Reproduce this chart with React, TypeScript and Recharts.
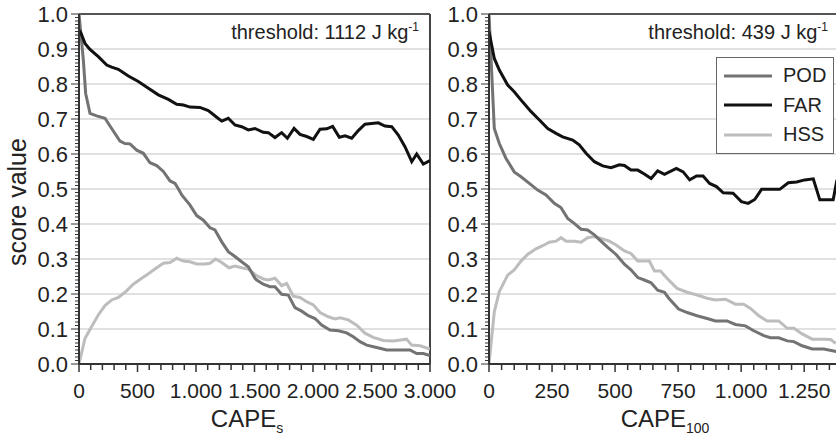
import React from 'react';
import { LineChart, Line, XAxis, YAxis, ReferenceLine, Legend } from 'recharts';

type Pt = [number, number];

// left panel: CAPE_s (J/kg) -> score
const capeSPod: Pt[] = [
  [0, 1.0], [37, 0.869], [57, 0.773], [94, 0.716], [151, 0.709], [222, 0.702], [279, 0.673],
  [350, 0.637], [393, 0.63], [436, 0.629], [493, 0.611], [550, 0.602], [607, 0.575], [664, 0.567],
  [721, 0.55], [778, 0.523], [821, 0.516], [855, 0.497], [878, 0.483], [949, 0.454], [1006, 0.424],
  [1063, 0.411], [1120, 0.389], [1162, 0.383], [1220, 0.349], [1276, 0.321], [1333, 0.307],
  [1390, 0.292], [1447, 0.278], [1504, 0.245], [1519, 0.24], [1575, 0.228], [1632, 0.221],
  [1675, 0.221], [1732, 0.199], [1789, 0.197], [1846, 0.161], [1903, 0.151], [1960, 0.138],
  [2017, 0.13], [2074, 0.111], [2145, 0.097], [2217, 0.095], [2288, 0.089], [2344, 0.078],
  [2402, 0.064], [2459, 0.054], [2544, 0.047], [2630, 0.04], [2715, 0.04], [2829, 0.04],
  [2886, 0.03], [2943, 0.03], [3000, 0.024],
];
const capeSFar: Pt[] = [
  [0, 0.954], [17, 0.945], [51, 0.916], [94, 0.899], [165, 0.878], [237, 0.854], [279, 0.848],
  [336, 0.842], [422, 0.823], [507, 0.807], [593, 0.788], [678, 0.769], [764, 0.756], [835, 0.742],
  [892, 0.74], [949, 0.734], [1034, 0.733], [1105, 0.724], [1177, 0.705], [1220, 0.694],
  [1276, 0.702], [1333, 0.683], [1390, 0.678], [1447, 0.669], [1504, 0.673], [1575, 0.662],
  [1618, 0.661], [1675, 0.647], [1732, 0.661], [1781, 0.645], [1838, 0.673], [1889, 0.656],
  [1946, 0.65], [2003, 0.642], [2060, 0.671], [2117, 0.672], [2168, 0.679], [2225, 0.648],
  [2274, 0.652], [2331, 0.645], [2387, 0.667], [2444, 0.685], [2501, 0.687], [2558, 0.689],
  [2615, 0.68], [2673, 0.678], [2729, 0.654], [2786, 0.621], [2844, 0.578], [2886, 0.6],
  [2943, 0.571], [3000, 0.581],
];
const capeSHss: Pt[] = [
  [0, 0], [51, 0.073], [108, 0.107], [165, 0.14], [222, 0.167], [279, 0.183], [336, 0.19],
  [393, 0.205], [464, 0.228], [536, 0.245], [593, 0.258], [664, 0.275], [721, 0.288], [778, 0.29],
  [835, 0.302], [892, 0.294], [949, 0.292], [1006, 0.286], [1077, 0.286], [1120, 0.288],
  [1168, 0.3], [1220, 0.29], [1282, 0.275], [1333, 0.28], [1390, 0.275], [1447, 0.271],
  [1519, 0.252], [1575, 0.243], [1618, 0.24], [1675, 0.245], [1732, 0.224], [1775, 0.23],
  [1832, 0.194], [1889, 0.19], [1946, 0.178], [2003, 0.169], [2060, 0.147], [2131, 0.135],
  [2188, 0.129], [2231, 0.132], [2302, 0.126], [2373, 0.111], [2444, 0.088], [2515, 0.076],
  [2601, 0.067], [2686, 0.066], [2800, 0.071], [2843, 0.054], [2915, 0.052], [3000, 0.043],
];

// right panel: CAPE_100 (J/kg) -> score
const cape100Pod: Pt[] = [
  [0, 1.0], [21, 0.673], [41, 0.63], [67, 0.588], [100, 0.549], [127, 0.535], [160, 0.516],
  [193, 0.497], [226, 0.483], [259, 0.459], [285, 0.447], [312, 0.416], [338, 0.402], [365, 0.385],
  [391, 0.383], [418, 0.369], [444, 0.351], [471, 0.333], [504, 0.313], [537, 0.285], [563, 0.269],
  [590, 0.247], [616, 0.24], [643, 0.232], [669, 0.211], [696, 0.205], [713, 0.188], [752, 0.157],
  [786, 0.147], [825, 0.138], [865, 0.13], [898, 0.123], [944, 0.123], [977, 0.113], [1017, 0.109],
  [1050, 0.095], [1090, 0.081], [1116, 0.075], [1149, 0.075], [1183, 0.066], [1209, 0.064],
  [1242, 0.052], [1282, 0.043], [1328, 0.043], [1367, 0.037], [1380, 0.035],
];
const cape100Far: Pt[] = [
  [0, 0.95], [21, 0.873], [41, 0.84], [74, 0.797], [100, 0.778], [133, 0.749], [167, 0.721],
  [200, 0.697], [233, 0.673], [266, 0.659], [292, 0.649], [332, 0.64], [358, 0.626], [385, 0.602],
  [418, 0.578], [451, 0.566], [484, 0.561], [517, 0.569], [537, 0.567], [563, 0.554], [590, 0.554],
  [616, 0.543], [643, 0.53], [669, 0.552], [696, 0.542], [743, 0.559], [770, 0.549], [796, 0.526],
  [823, 0.537], [849, 0.537], [875, 0.516], [902, 0.507], [929, 0.489], [968, 0.488], [1001, 0.464],
  [1028, 0.459], [1054, 0.47], [1081, 0.499], [1113, 0.499], [1153, 0.499], [1187, 0.518],
  [1220, 0.52], [1252, 0.526], [1286, 0.529], [1312, 0.469], [1339, 0.469], [1365, 0.469],
  [1380, 0.526],
];
const cape100Hss: Pt[] = [
  [0, 0], [21, 0.149], [41, 0.207], [74, 0.254], [100, 0.269], [127, 0.294], [153, 0.313],
  [186, 0.329], [213, 0.338], [239, 0.348], [266, 0.351], [286, 0.361], [306, 0.351], [338, 0.351],
  [365, 0.348], [391, 0.361], [418, 0.364], [451, 0.357], [477, 0.351], [504, 0.34], [537, 0.323],
  [563, 0.316], [590, 0.294], [616, 0.294], [636, 0.294], [656, 0.266], [680, 0.266], [706, 0.245],
  [746, 0.216], [786, 0.205], [825, 0.197], [865, 0.188], [898, 0.183], [938, 0.185], [977, 0.171],
  [1010, 0.171], [1037, 0.159], [1070, 0.138], [1103, 0.123], [1149, 0.123], [1183, 0.102],
  [1209, 0.102], [1242, 0.086], [1282, 0.071], [1328, 0.071], [1355, 0.07], [1375, 0.059],
];

const capeSTicks = [0, 500, 1000, 1500, 2000, 2500, 3000];
const cape100Ticks = [0, 250, 500, 750, 1000, 1250];
const gridLines = [0.1, 0.2, 0.3, 0.4, 0.5, 0.6, 0.7, 0.8, 0.9];

const capeSMinor = Array.from({ length: 31 }, (_, i) => i * 100);
const cape100Minor = Array.from({ length: 29 }, (_, i) => i * 50);
const scoreMinor = Array.from({ length: 101 }, (_, i) => i / 100);

const COLORS: Record<string, string> = { POD: '#737373', FAR: '#111111', HSS: '#bdbdbd' };
const FONT = '"Liberation Sans", Arial, sans-serif';
const INK = '#222';

const rows = (pts: Pt[]) => pts.map(([x, y]) => ({ x, y }));

const fmtThousands = (v: number) =>
  v >= 1000 ? `${Math.floor(v / 1000)}.${String(v % 1000).padStart(3, '0')}` : String(v);

const XTick = (props: any) => {
  const { x, y, payload, majors } = props;
  const v = payload.value;
  const major = majors.includes(v);
  return (
    <g>
      <line x1={x} x2={x} y1={y - 8} y2={major ? y : y - 2} stroke="#333" strokeWidth={1.5} />
      {major && (
        <text x={x} y={y + 26} textAnchor="middle" fontSize={21} fontFamily={FONT} fill={INK}>
          {fmtThousands(v)}
        </text>
      )}
    </g>
  );
};

const YTick = (props: any) => {
  const { x, y, payload } = props;
  const v = payload.value;
  const major = Math.abs(v * 10 - Math.round(v * 10)) < 1e-6;
  return (
    <g>
      <line x1={major ? x : x + 4} x2={x + 8} y1={y} y2={y} stroke="#333" strokeWidth={1} />
      {major && (
        <text x={x - 3} y={y + 8} textAnchor="end" fontSize={22} fontFamily={FONT} fill={INK}>
          {v.toFixed(1)}
        </text>
      )}
    </g>
  );
};

const LegendBox = () => (
  <div
    style={{
      width: 118,
      height: 97,
      boxSizing: 'border-box',
      border: '1px solid #666',
      background: '#fff',
      paddingTop: 3,
      fontFamily: FONT,
      fontSize: 20,
      color: INK,
    }}
  >
    {['POD', 'FAR', 'HSS'].map((name) => (
      <div key={name} style={{ height: 29.5, display: 'flex', alignItems: 'center' }}>
        <svg width={62} height={10} style={{ display: 'block' }}>
          <line x1={7} x2={55} y1={5} y2={5} stroke={COLORS[name]} strokeWidth={3} />
        </svg>
        <span style={{ marginLeft: 4 }}>{name}</span>
      </div>
    ))}
  </div>
);

type PanelProps = {
  width: number;
  marginLeft: number;
  marginRight: number;
  xMax: number;
  xTicks: number[];
  xMinor: number[];
  pod: Pt[];
  far: Pt[];
  hss: Pt[];
  rightBorder?: boolean;
  legend?: boolean;
};

const Panel = (p: PanelProps) => (
  <LineChart
    width={p.width}
    height={440}
    margin={{ top: 14, right: p.marginRight, bottom: 36, left: p.marginLeft }}
  >
    <XAxis
      type="number"
      dataKey="x"
      domain={[0, p.xMax]}
      ticks={p.xMinor}
      interval={0}
      height={40}
      tickSize={8}
      tickMargin={0}
      tickLine={false}
      axisLine={{ stroke: '#333', strokeWidth: 2 }}
      tick={<XTick majors={p.xTicks} />}
      allowDataOverflow
    />
    <YAxis
      type="number"
      domain={[0, 1]}
      ticks={scoreMinor}
      interval={0}
      width={50}
      tickSize={8}
      tickMargin={0}
      tickLine={false}
      axisLine={{ stroke: '#333', strokeWidth: 2 }}
      tick={<YTick />}
    />
    {gridLines.map((g) => (
      <ReferenceLine key={g} y={g} stroke="#c4c4c4" strokeWidth={1.2} />
    ))}
    <ReferenceLine y={1} stroke="#555" strokeWidth={2} />
    {p.rightBorder && <ReferenceLine x={p.xMax} stroke="#444" strokeWidth={2} />}
    <Line data={rows(p.hss)} dataKey="y" name="HSS" type="linear" stroke={COLORS.HSS} strokeWidth={3} dot={false} isAnimationActive={false} />
    <Line data={rows(p.pod)} dataKey="y" name="POD" type="linear" stroke={COLORS.POD} strokeWidth={3} dot={false} isAnimationActive={false} />
    <Line data={rows(p.far)} dataKey="y" name="FAR" type="linear" stroke={COLORS.FAR} strokeWidth={3} dot={false} isAnimationActive={false} />
    {p.legend && (
      <Legend
        layout="horizontal"
        align="center"
        verticalAlign="middle"
        content={() => <LegendBox />}
        wrapperStyle={{ position: 'absolute', left: 280, top: 57, width: 118, height: 97 }}
      />
    )}
  </LineChart>
);

export default function App() {
  return (
    <div
      style={{
        position: 'absolute',
        left: 0,
        top: 0,
        width: 836,
        height: 440,
        overflow: 'hidden',
        background: '#fff',
      }}
    >
      <div style={{ position: 'absolute', left: 0, top: 0 }}>
        <Panel
          width={460}
          marginLeft={29}
          marginRight={30}
          xMax={3000}
          xTicks={capeSTicks}
          xMinor={capeSMinor}
          pod={capeSPod}
          far={capeSFar}
          hss={capeSHss}
          rightBorder
        />
      </div>
      <div style={{ position: 'absolute', left: 436, top: 0 }}>
        <Panel
          width={406}
          marginLeft={3}
          marginRight={0}
          xMax={1400}
          xTicks={cape100Ticks}
          xMinor={cape100Minor}
          pod={cape100Pod}
          far={cape100Far}
          hss={cape100Hss}
          legend
        />
      </div>
      <svg
        width={836}
        height={440}
        style={{ position: 'absolute', left: 0, top: 0, pointerEvents: 'none' }}
        fontFamily={FONT}
        fill={INK}
      >
        <text transform="translate(26,202) rotate(-90)" textAnchor="middle" fontSize={25}>
          score value
        </text>
        <text x={247} y={427} textAnchor="middle" fontSize={24}>
          CAPE<tspan dy={6} fontSize={14}>s</tspan>
        </text>
        <text x={665} y={427} textAnchor="middle" fontSize={24}>
          CAPE<tspan dy={6} fontSize={14}>100</tspan>
        </text>
        <text x={419} y={39} textAnchor="end" fontSize={20}>
          threshold: 1112 J kg<tspan dy={-8} fontSize={12}>-1</tspan>
        </text>
        <text x={828} y={39} textAnchor="end" fontSize={20}>
          threshold: 439 J kg<tspan dy={-8} fontSize={12}>-1</tspan>
        </text>
      </svg>
    </div>
  );
}
